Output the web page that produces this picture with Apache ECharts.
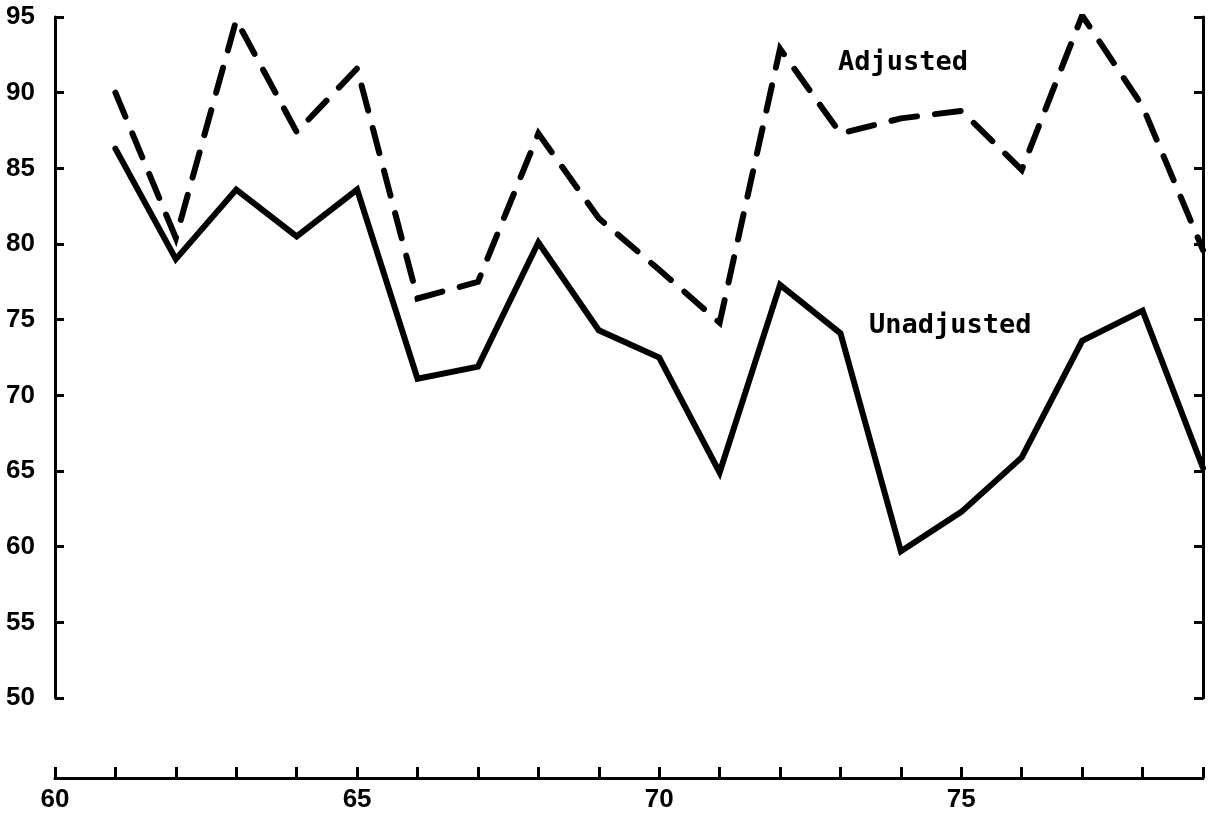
<!DOCTYPE html>
<html>
<head>
<meta charset="utf-8">
<script src="https://cdn.jsdelivr.net/npm/echarts@6/dist/echarts.min.js"></script>
<style>
  html, body { margin: 0; padding: 0; background: #fff; }
  #chart { width: 1214px; height: 815px; }
</style>
</head>
<body>
<div id="chart"></div>
<script>
  // years (19xx) and the two series
  const years = [61, 62, 63, 64, 65, 66, 67, 68, 69, 70, 71, 72, 73, 74, 75, 76, 77, 78, 79];
  const unadjusted = [86.3, 79.0, 83.6, 80.5, 83.6, 71.1, 71.9, 80.1, 74.3, 72.5, 64.9, 77.3, 74.1, 59.7, 62.3, 65.9, 73.6, 75.6, 65.2];
  const adjusted = [90.0, 80.4, 94.8, 87.4, 91.6, 76.4, 77.5, 87.3, 81.7, 78.3, 74.8, 92.9, 87.3, 88.3, 88.8, 84.9, 95.1, 89.1, 79.6];
  const xLabels = [60, 65, 70, 75];
  const seriesNames = ['Adjusted', 'Unadjusted'];

  const tickFont = {
    color: '#000',
    fontFamily: '"Liberation Sans", Arial, sans-serif',
    fontWeight: 'bold',
    fontSize: 26,
  };
  const labelFont = {
    fill: '#000',
    fontFamily: '"DejaVu Sans Mono", monospace',
    fontWeight: 'bold',
    fontSize: 27,
  };

  const axisLine = { show: true, lineStyle: { color: '#000', width: 3 } };
  const axisTick = { show: true, inside: true, length: 9, lineStyle: { color: '#000', width: 3 } };

  function pairs(values) {
    return years.map((year, i) => [year, values[i]]);
  }

  const option = {
    backgroundColor: '#fff',
    animation: false,
    grid: { left: 55, right: 11, top: 17, bottom: 117 },
    xAxis: {
      type: 'value',
      min: 60,
      max: 79,
      interval: 1,
      position: 'bottom',
      offset: 80,
      axisLine,
      axisTick: Object.assign({}, axisTick, { length: 11 }),
      splitLine: { show: false },
      axisLabel: Object.assign({}, tickFont, {
        margin: 9,
        formatter: (v) => (xLabels.indexOf(v) >= 0 ? String(v) : ''),
      }),
    },
    yAxis: [{
      type: 'value',
      min: 50,
      max: 95,
      interval: 5,
      position: 'left',
      axisLine,
      axisTick,
      splitLine: { show: false },
      axisLabel: Object.assign({}, tickFont, { margin: 20 }),
    }, {
      type: 'value',
      min: 50,
      max: 95,
      interval: 5,
      position: 'right',
      axisLine,
      axisTick,
      splitLine: { show: false },
      axisLabel: { show: false },
    }],
    series: [{
      name: seriesNames[0],
      type: 'line',
      data: pairs(adjusted),
      showSymbol: false,
      lineStyle: { color: '#000', width: 6, type: [26, 18], cap: 'round', join: 'miter' },
    }, {
      name: seriesNames[1],
      type: 'line',
      data: pairs(unadjusted),
      showSymbol: false,
      lineStyle: { color: '#000', width: 6, cap: 'round', join: 'miter' },
    }],
    graphic: [{
      type: 'text',
      left: 838,
      top: 49,
      style: Object.assign({ text: seriesNames[0] }, labelFont),
    }, {
      type: 'text',
      left: 869,
      top: 312,
      style: Object.assign({ text: seriesNames[1] }, labelFont),
    }],
  };

  const chart = echarts.init(document.getElementById('chart'));
  chart.setOption(option);
</script>
</body>
</html>
